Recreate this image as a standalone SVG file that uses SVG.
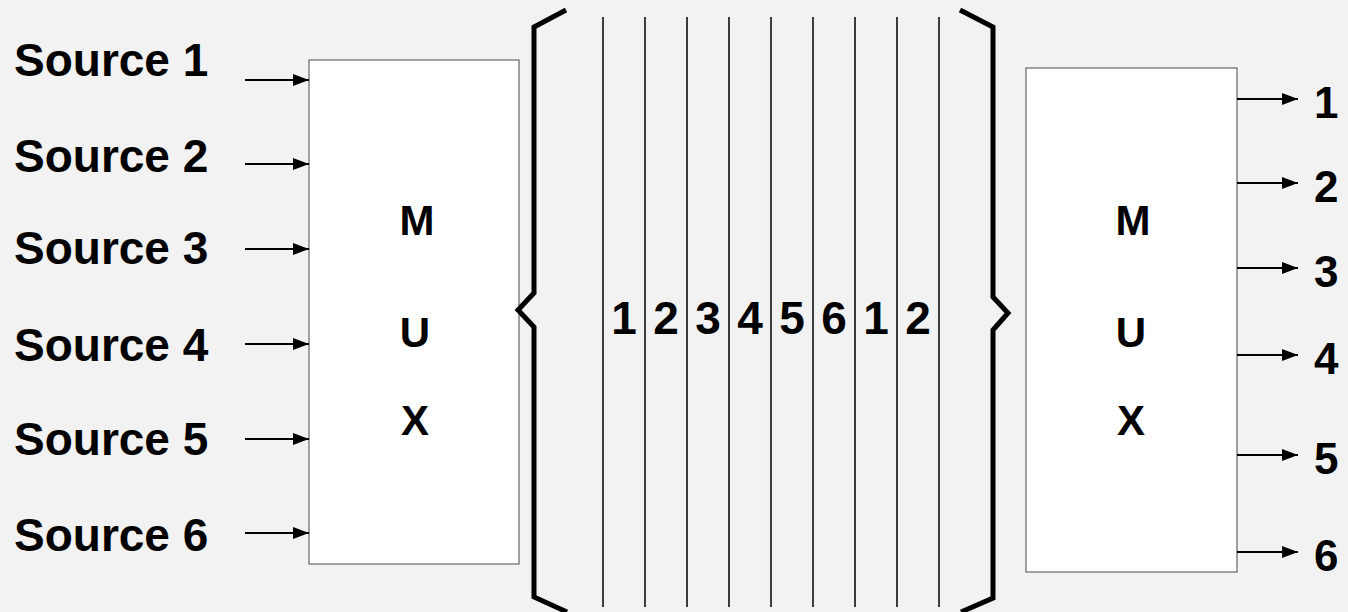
<svg xmlns="http://www.w3.org/2000/svg" width="1348" height="612" viewBox="0 0 1348 612">
  <defs>
    <style>
      .lbl { font-family: "Liberation Sans", Arial, sans-serif; font-weight: bold; fill: #000; }
      .src { font-size: 46px; }
      .mux { font-size: 42px; text-anchor: middle; }
      .slot { font-size: 46px; text-anchor: middle; }
      .out { font-size: 44px; }
      .box { fill: #ffffff; stroke: #666666; stroke-width: 1.2; }
      .wire { stroke: #000; stroke-width: 2; fill: none; marker-end: url(#head); }
      .frame { stroke: #000; stroke-width: 1.5; }
      .brace { stroke: #000; stroke-width: 5; fill: none; stroke-linejoin: miter; }
    </style>
    <marker id="head" viewBox="0 0 16 12" refX="16" refY="6" markerWidth="16" markerHeight="12" markerUnits="userSpaceOnUse" orient="auto">
      <path d="M0,0 L16,6 L0,12 Z" fill="#000"/>
    </marker>
  </defs>

  <rect width="1348" height="612" fill="#f2f2f2"/>

  <!-- source labels -->
  <g id="sources">
    <text class="lbl src" x="14" y="76">Source 1</text>
    <text class="lbl src" x="14" y="172">Source 2</text>
    <text class="lbl src" x="14" y="264">Source 3</text>
    <text class="lbl src" x="14" y="361">Source 4</text>
    <text class="lbl src" x="14" y="455">Source 5</text>
    <text class="lbl src" x="14" y="551">Source 6</text>
  </g>

  <!-- multiplexer -->
  <g id="mux-in">
    <rect class="box" x="309" y="60" width="210" height="504"/>
    <text class="lbl mux" x="417" y="235">M</text>
    <text class="lbl mux" x="415" y="347">U</text>
    <text class="lbl mux" x="415" y="435">X</text>
  </g>

  <!-- time-slot frame -->
  <g id="frame">
    <path class="brace" d="M566,10 L534,27 L534,293 L518,310 L534,327 L534,597 L567,612"/>
    <path class="brace" d="M960,10 L993,27 L993,297 L1008,313 L993,330 L993,598 L961,612"/>
    <g class="frame">
      <line x1="603" y1="17" x2="603" y2="607"/>
      <line x1="645" y1="17" x2="645" y2="607"/>
      <line x1="687" y1="17" x2="687" y2="607"/>
      <line x1="729" y1="17" x2="729" y2="607"/>
      <line x1="771" y1="17" x2="771" y2="607"/>
      <line x1="813" y1="17" x2="813" y2="607"/>
      <line x1="855" y1="17" x2="855" y2="607"/>
      <line x1="897" y1="17" x2="897" y2="607"/>
      <line x1="939" y1="17" x2="939" y2="607"/>
    </g>
    <text class="lbl slot" x="624" y="334">1</text>
    <text class="lbl slot" x="666" y="334">2</text>
    <text class="lbl slot" x="708" y="334">3</text>
    <text class="lbl slot" x="750" y="334">4</text>
    <text class="lbl slot" x="792" y="334">5</text>
    <text class="lbl slot" x="834" y="334">6</text>
    <text class="lbl slot" x="876" y="334">1</text>
    <text class="lbl slot" x="918" y="334">2</text>
  </g>

  <!-- demultiplexer -->
  <g id="mux-out">
    <rect class="box" x="1026" y="68" width="211" height="504"/>
    <text class="lbl mux" x="1133" y="235">M</text>
    <text class="lbl mux" x="1131" y="347">U</text>
    <text class="lbl mux" x="1131" y="435">X</text>
  </g>

  <!-- output labels -->
  <g id="outputs">
    <text class="lbl out" x="1314" y="118">1</text>
    <text class="lbl out" x="1314" y="202">2</text>
    <text class="lbl out" x="1314" y="287">3</text>
    <text class="lbl out" x="1314" y="374">4</text>
    <text class="lbl out" x="1314" y="474">5</text>
    <text class="lbl out" x="1314" y="571">6</text>
  </g>

  <!-- connectors -->
  <g id="connectors">
    <line class="wire" x1="245" y1="80" x2="309" y2="80"/>
    <line class="wire" x1="245" y1="164" x2="309" y2="164"/>
    <line class="wire" x1="245" y1="249" x2="309" y2="249"/>
    <line class="wire" x1="245" y1="344" x2="309" y2="344"/>
    <line class="wire" x1="245" y1="439" x2="309" y2="439"/>
    <line class="wire" x1="245" y1="533" x2="309" y2="533"/>
    <line class="wire" x1="1237" y1="99" x2="1298" y2="99"/>
    <line class="wire" x1="1237" y1="183" x2="1298" y2="183"/>
    <line class="wire" x1="1237" y1="268" x2="1298" y2="268"/>
    <line class="wire" x1="1237" y1="355" x2="1298" y2="355"/>
    <line class="wire" x1="1237" y1="455" x2="1298" y2="455"/>
    <line class="wire" x1="1237" y1="552" x2="1298" y2="552"/>
  </g>
</svg>
